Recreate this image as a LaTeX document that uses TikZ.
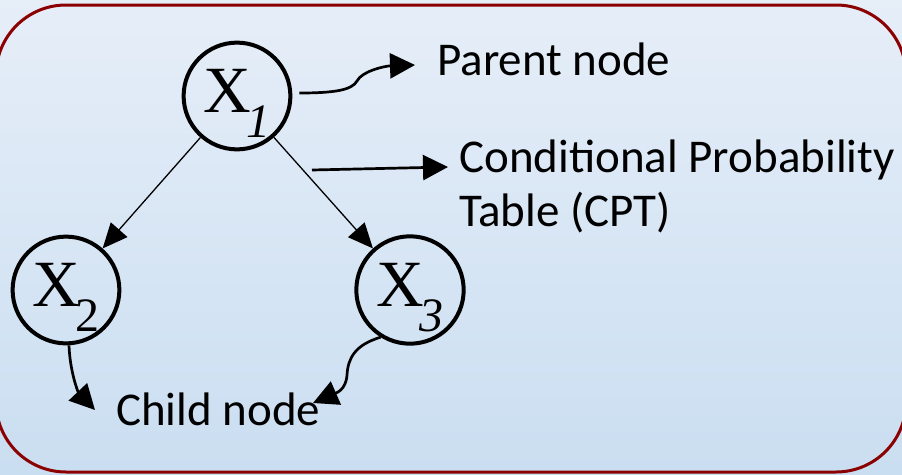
\documentclass[tikz,border=0pt]{standalone}
\usepackage{fontspec}
\setmainfont{Carlito}
\newfontfamily\timesfont{Liberation Serif}
\usetikzlibrary{arrows.meta}
\definecolor{bgtop}{RGB}{230,238,248}
\definecolor{bgbot}{RGB}{202,222,241}
\definecolor{framered}{RGB}{139,0,0}
\newcommand{\xlab}[1]{\rule{0pt}{58pt}{\timesfont\fontsize{66}{66}\selectfont X}\kern-4pt\raisebox{-25pt}{\timesfont\fontsize{48}{48}\selectfont #1}}
\tikzset{
	var/.style={circle, draw, line width=4pt, minimum size=101pt, inner sep=0pt},
	lab/.style={font=\fontsize{47}{54}\selectfont, inner sep=0pt},
	edge/.style={line width=1.3pt, -{Triangle[length=25pt,width=22pt]}},
	ann/.style={line width=2.7pt, -{Triangle[length=25pt,width=25pt]}}
}
\begin{document}
\begin{tikzpicture}[x=1pt, y=-1pt]
	\shade[top color=bgtop, bottom color=bgbot] (0,0) rectangle (902,474);
	\useasboundingbox (0,0) rectangle (902,474);
	\draw[framered, line width=3pt, rounded corners=70pt] (-4,5) rectangle (906,472);
	% variables
	\node[var] (x1) at (237,96) {\xlab{\itshape 1}};
	\node[var] (x2) at (66,290) {\xlab{2}};
	\node[var] (x3) at (410,290) {\xlab{\itshape 3}};
	\draw[edge] (x1) -- (x2);
	\draw[edge] (x1) -- (x3);
	% labels
	\node[lab, anchor=base west] (par) at (437,75) {Parent node};
	\node[lab, anchor=base west, align=left] (cpt) at (459,226) {Conditional Probability\\Table (CPT)};
	\node[lab, anchor=base west] (child) at (116,425) {Child node};
	\coordinate (ptip) at (415,65);
	\coordinate (cstart) at (312,170);
	\coordinate (ctip) at (448,167);
	\coordinate (ltip) at (95,410);
	\coordinate (rtip) at (313,403);
	\draw[ann] ([xshift=7pt,yshift=3pt]x1.east) .. controls (335,93) and (352,90) .. (357,81) .. controls (362,71) and (385,66) .. (ptip);
	\draw[ann] (cstart) -- (ctip);
	\draw[ann] ([xshift=3pt]x2.south) .. controls (70,372) and (78,392) .. (ltip);
	\draw[ann] (x3.238) .. controls (355,345) and (348,358) .. (347,375) .. controls (346,390) and (336,393) .. (rtip);
\end{tikzpicture}
\end{document}
